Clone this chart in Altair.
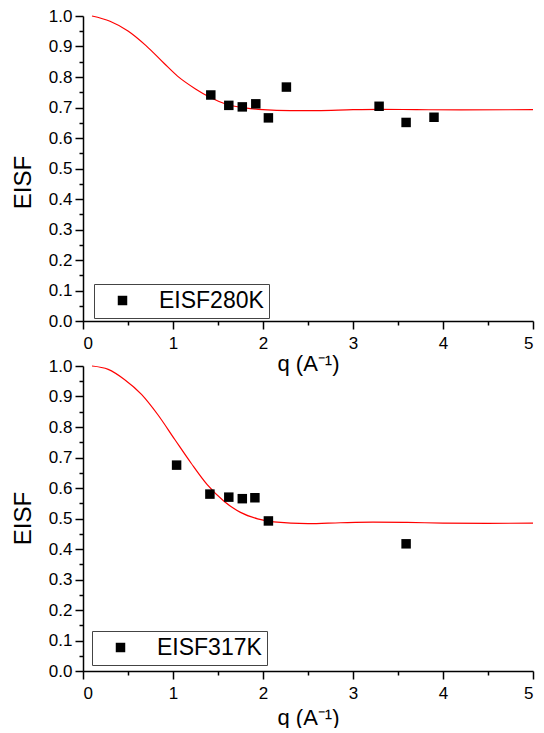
import altair as alt
import pandas as pd

# ---- data ----
q_280 = [1.42, 1.62, 1.77, 1.92, 2.06, 2.26, 3.29, 3.59, 3.90]
eisf_280 = [0.741, 0.707, 0.702, 0.712, 0.666, 0.767, 0.704, 0.651, 0.668]
fit_q_280 = [0.1, 0.3, 0.5, 0.7, 0.9, 1.05, 1.25, 1.42, 1.6, 1.8, 2.0, 2.3, 2.6, 3.0, 3.3, 3.7, 4.2, 5.0]
fit_eisf_280 = [1.000, 0.983, 0.951, 0.903, 0.845, 0.803, 0.761, 0.732, 0.710, 0.699, 0.693,
                0.690, 0.690, 0.693, 0.694, 0.693, 0.692, 0.693]

q_317 = [1.04, 1.41, 1.62, 1.77, 1.91, 2.06, 3.59]
eisf_317 = [0.675, 0.580, 0.570, 0.565, 0.568, 0.492, 0.417]
fit_q_317 = [0.1, 0.28, 0.46, 0.65, 0.83, 1.02, 1.2, 1.38, 1.57, 1.75, 1.94, 2.12, 2.5,
             2.86, 3.22, 3.6, 4.0, 4.5, 5.0]
fit_eisf_317 = [1.000, 0.989, 0.956, 0.907, 0.841, 0.759, 0.682, 0.611, 0.556, 0.520, 0.499,
                0.489, 0.483, 0.486, 0.488, 0.487, 0.485, 0.484, 0.485]

x_ticks = [i * 0.5 for i in range(11)]
y_ticks = [round(i * 0.05, 2) for i in range(21)]

FONT = "Liberation Sans"
NBSP = "\u00a0"


def panel(qs, es, fq, fe, label, xtitle, xtitle_pad, xtitle_size, leg_x, leg_y, ytitle_y):
    pts = pd.DataFrame({"q": qs, "eisf": es, "series": label})
    fit = pd.DataFrame({"q": fq, "eisf": fe})

    xax = alt.Axis(
        values=x_ticks,
        title=xtitle,
        labelExpr="datum.value % 1 == 0 ? format(datum.value, 'd') : ''",
        tickSize={"condition": {"test": "datum.value % 1 != 0", "value": 4}, "value": 8},
        labelOverlap=False,
        labelPadding=6,
        titlePadding=xtitle_pad,
        titleFontSize=xtitle_size,
        grid=False,
    )
    yax = alt.Axis(
        values=y_ticks,
        title="EISF",
        labelExpr="round(datum.value * 20) % 2 == 0 ? format(datum.value, '.1f') : ''",
        tickSize={"condition": {"test": "round(datum.value * 20) % 2 == 1", "value": 4}, "value": 8},
        labelOverlap=False,
        labelPadding=3,
        titlePadding=13,
        titleFontSize=24,
        titleY=ytitle_y,
        grid=False,
    )
    xs = alt.Scale(domain=[0, 5], nice=False, zero=False)
    ys = alt.Scale(domain=[0, 1], nice=False, zero=False)

    line = alt.Chart(fit).mark_line(color="#ff0000", strokeWidth=1.2, interpolate="monotone").encode(
        x=alt.X("q:Q", scale=xs, axis=xax),
        y=alt.Y("eisf:Q", scale=ys, axis=yax),
    )
    points = alt.Chart(pts).mark_square(size=90, opacity=1, filled=True).encode(
        x=alt.X("q:Q", scale=xs, axis=xax),
        y=alt.Y("eisf:Q", scale=ys, axis=yax),
        color=alt.Color(
            "series:N",
            scale=alt.Scale(domain=[label], range=["black"]),
            legend=alt.Legend(
                title=None,
                orient="none",
                legendX=leg_x,
                legendY=leg_y,
                strokeColor="#444444",
                padding=5,
                labelFont=FONT,
                labelFontSize=23,
                labelColor="black",
                symbolType="square",
                symbolSize=90,
                symbolStrokeWidth=0,
                symbolOffset=12,
                labelOffset=25,
                labelExpr="datum.label + '" + NBSP * 8 + "'",
            ),
        ),
    )
    return alt.layer(line, points).properties(width=450, height=305)


top = panel(q_280, eisf_280, fit_q_280, fit_eisf_280, "EISF280K", "q  (A⁻¹)", 2, 22, 11, 268, 166)
bottom = panel(q_317, eisf_317, fit_q_317, fit_eisf_317, "EISF317K", "q (A⁻¹)", 6, 22, 9, 265, 152)

chart = (
    alt.vconcat(top, bottom, spacing=45, bounds="flush")
    .resolve_scale(color="independent", x="independent", y="independent")
    .properties(padding={"left": 3, "top": -1, "right": 0, "bottom": 0}, background="white")
    .configure_view(stroke=None)
    .configure_axis(
        domainColor="black",
        domainWidth=1.5,
        tickColor="black",
        tickWidth=1.5,
        labelFont=FONT,
        labelFontSize=17,
        labelColor="black",
        titleFont=FONT,
        titleFontWeight="normal",
        titleColor="black",
    )
)

chart.save("out.html", embed_options={"renderer": "svg", "actions": False})
